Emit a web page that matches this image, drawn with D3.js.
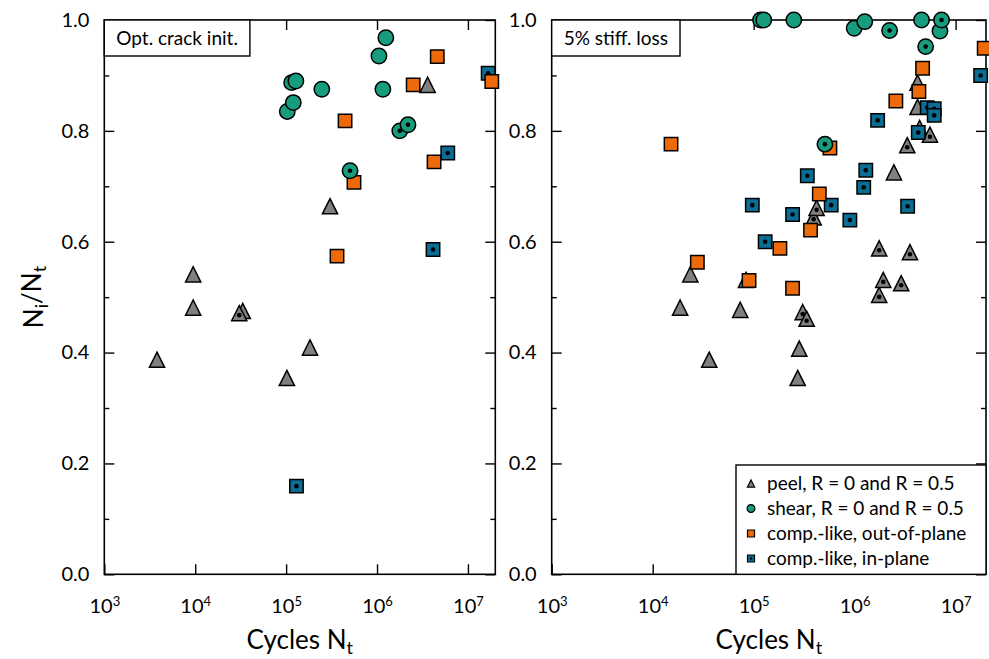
<!DOCTYPE html>
<html><head><meta charset="utf-8">
<script src="https://cdn.jsdelivr.net/npm/d3@7"></script>
<style>
body{margin:0;background:#fff}
svg text{font-family:Lato,"DejaVu Sans",sans-serif;fill:#000}
</style>
</head><body>
<svg id="chart" width="989" height="659"></svg>
<script>
// ---------------- data ----------------
const xTicks = [1e3, 1e4, 1e5, 1e6, 1e7];
const yTicks = [0, 0.2, 0.4, 0.6, 0.8, 1.0];
const yMinorTicks = [0.1, 0.3, 0.5, 0.7, 0.9];
const panelTitles = ["Opt. crack init.", "5% stiff. loss"];
const legendLabels = ["peel, R = 0 and R = 0.5", "shear, R = 0 and R = 0.5", "comp.-like, out-of-plane", "comp.-like, in-plane"];

// [cycles N_t, ratio N_i/N_t, dot (R = 0.5)]
const initPeel = [[3.8e3,0.388,0],[9.5e3,0.542,0],[9.5e3,0.482,0],[3.33e4,0.476,0],[3.05e4,0.472,1],[1.02e5,0.355,0],[1.83e5,0.41,0],[3.04e5,0.665,0],[3.6e6,0.884,0]];
const initShear = [[1.03e5,0.835,0],[1.2e5,0.851,0],[1.15e5,0.887,0],[1.28e5,0.890,0],[2.47e5,0.875,0],[1.05e6,0.935,0],[1.25e6,0.968,0],[1.16e6,0.875,0],[1.78e6,0.800,1],[2.19e6,0.811,1],[5.05e5,0.728,1]];
const initOutPlane = [[4.45e5,0.818,0],[5.58e5,0.707,0],[3.63e5,0.574,0],[2.5e6,0.883,0],[4.6e6,0.934,0],[4.24e6,0.744,0],[1.83e7,0.889,0]];
const initInPlane = [[1.3e5,0.159,1],[4.13e6,0.586,1],[6.0e6,0.760,1],[1.67e7,0.904,1]];

const stiffPeel = [[1.87e4,0.482,0],[2.36e4,0.542,0],[3.63e4,0.388,0],[7.36e4,0.478,0],[8.4e4,0.532,0],[2.73e5,0.355,0],[2.83e5,0.408,0],[3.06e5,0.474,1],[3.35e5,0.462,1],[3.93e5,0.645,1],[4.2e5,0.662,1],[1.75e6,0.589,1],[1.75e6,0.505,1],[1.92e6,0.532,1],[2.89e6,0.526,1],[3.53e6,0.582,1],[2.45e6,0.726,0],[3.32e6,0.775,1],[4.4e6,0.806,0],[5.57e6,0.794,1],[4.2e6,0.844,0],[4.2e6,0.888,0]];
const stiffShear = [[1.17e5,1.0,1],[1.26e5,1.0,0],[2.5e5,1.0,0],[9.9e5,0.985,0],[1.26e6,0.997,0],[2.22e6,0.981,1],[4.6e6,1.0,0],[7.0e6,0.980,0],[7.26e6,1.0,1],[5.05e6,0.952,1],[5.08e5,0.776,1]];
const stiffOutPlane = [[1.52e4,0.776,0],[2.77e4,0.563,0],[9.0e4,0.530,0],[1.82e5,0.588,0],[2.43e5,0.516,0],[3.66e5,0.621,0],[4.47e5,0.686,0],[5.69e5,0.769,0],[2.56e6,0.854,0],[4.33e6,0.871,0],[4.71e6,0.913,0],[1.92e7,0.949,0]];
const stiffInPlane = [[9.7e4,0.666,1],[1.3e5,0.600,1],[2.43e5,0.649,1],[3.4e5,0.719,1],[5.86e5,0.666,1],[8.97e5,0.639,1],[1.23e6,0.698,1],[1.29e6,0.729,1],[1.69e6,0.819,1],[3.35e6,0.664,1],[4.27e6,0.797,1],[5.24e6,0.842,1],[6.14e6,0.840,1],[6.14e6,0.828,1],[1.77e7,0.900,1]];

// ---------------- styles ----------------
const COLORS = {peel:"#808080", shear:"#179c7d", out:"#ec6a0a", inp:"#0b6d94"};
const svg = d3.select("#chart");

function markerPath(type, s) {
  if (type === "tri") return `M0,${-s}L${s},${s}L${-s},${s}Z`;
  if (type === "sq") return `M${-s},${-s}H${s}V${s}H${-s}Z`;
  const p = d3.path(); p.arc(0, 0, s, 0, 2 * Math.PI); p.closePath(); return p.toString();
}
const SIZES = {tri:7.6, circ:7.7, sq:6.7};

function drawMarkers(g, data, type, color, xs, ys) {
  const sel = g.append("g").selectAll("g").data(data).join("g")
    .attr("transform", d => `translate(${xs(d[0])},${ys(d[1]) + (type==="tri"?0.5:0)})`);
  sel.append("path").attr("d", markerPath(type, SIZES[type]))
    .attr("fill", color).attr("stroke", "#000").attr("stroke-width", 1.5)
    .attr("stroke-linejoin", "miter");
  sel.filter(d => d[2]).append("circle").attr("r", 2.3).attr("fill", "#000")
    .attr("cy", type==="tri" ? 2 : 0);
}

function drawPanel(x0, x1, y0, y1, series, title) {
  const w = x1 - x0, h = y1 - y0;
  const g = svg.append("g").attr("transform", `translate(${x0},${y0})`);
  const xs = d3.scaleLog().domain([1e3, 2e7]).range([0, w]);
  const ys = d3.scaleLinear().domain([0, 1]).range([h, 0]);

  const gb = g.append("g").attr("transform", `translate(0,${h})`)
    .call(d3.axisBottom(xs).tickValues(xTicks).tickSizeInner(-10).tickSizeOuter(0).tickPadding(25).tickFormat(d => ""));
  gb.selectAll(".tick text").each(function(d) {
    const t = d3.select(this).attr("font-size", 20).attr("fill", "#000");
    t.append("tspan").text("10");
    t.append("tspan").attr("dy", "-0.6em").attr("font-size", "13px").text(Math.round(Math.log10(d)));
  });
  g.append("g").call(d3.axisTop(xs).tickValues(xTicks).tickSizeInner(-10).tickSizeOuter(0).tickFormat(() => ""));
  g.append("g").call(d3.axisLeft(ys).tickValues(yTicks).tickSizeInner(-10).tickSizeOuter(0).tickPadding(15).tickFormat(d3.format(".1f")))
    .selectAll(".tick text").attr("font-size", 20).attr("fill", "#000");
  g.append("g").call(d3.axisLeft(ys).tickValues(yMinorTicks).tickSizeInner(-5).tickSizeOuter(0).tickFormat(() => ""));
  g.append("g").attr("transform", `translate(${w},0)`)
    .call(d3.axisRight(ys).tickValues(yTicks).tickSizeInner(-10).tickSizeOuter(0).tickFormat(() => ""));
  g.append("g").attr("transform", `translate(${w},0)`)
    .call(d3.axisRight(ys).tickValues(yMinorTicks).tickSizeInner(-5).tickSizeOuter(0).tickFormat(() => ""));
  g.selectAll(".domain").remove();
  g.selectAll(".tick line").attr("stroke", "#000").attr("stroke-width", 1.4);
  g.selectAll("text").attr("font-family", null);

  g.append("rect").attr("width", w).attr("height", h).attr("fill", "none").attr("stroke", "#000").attr("stroke-width", 1.6);

  drawMarkers(g, series.peel, "tri", COLORS.peel, xs, ys);
  drawMarkers(g, series.inp, "sq", COLORS.inp, xs, ys);
  drawMarkers(g, series.out, "sq", COLORS.out, xs, ys);
  drawMarkers(g, series.shear, "circ", COLORS.shear, xs, ys);

  const tb = g.append("g");
  const tt = tb.append("text").attr("x", 12).attr("y", 25).attr("font-size", 19).text(title);
  const tl = tt.node().getComputedTextLength();
  tb.insert("rect", "text").attr("x", 0).attr("y", 0).attr("width", tl + 24).attr("height", 36)
    .attr("fill", "#fff").attr("stroke", "#000").attr("stroke-width", 1.4);

  const xl = svg.append("text").attr("x", x0 + w / 2).attr("y", 649).attr("text-anchor", "middle").attr("font-size", 26);
  xl.append("tspan").text("Cycles N");
  xl.append("tspan").attr("dy", "0.25em").attr("font-size", "18px").text("t");
  return {g, xs, ys, w, h};
}

const left = drawPanel(104.3, 495.3, 20, 574.3, {peel: initPeel, shear: initShear, out: initOutPlane, inp: initInPlane}, panelTitles[0]);
const right = drawPanel(551.7, 986, 20, 574.3, {peel: stiffPeel, shear: stiffShear, out: stiffOutPlane, inp: stiffInPlane}, panelTitles[1]);

const yl = svg.append("text").attr("transform", "translate(43,297) rotate(-90)").attr("text-anchor", "middle").attr("font-size", 26);
yl.append("tspan").text("N");
yl.append("tspan").attr("dy", "0.25em").attr("font-size", "18px").text("i");
yl.append("tspan").attr("dy", "-0.25em").text("/N");
yl.append("tspan").attr("dy", "0.25em").attr("font-size", "18px").text("t");

const lg = right.g.append("g").attr("transform", `translate(${736 - 551.7},${465 - 20})`);
lg.append("rect").attr("width", right.w - (736 - 551.7)).attr("height", right.h - (465 - 20))
  .attr("fill", "#fff").attr("stroke", "#000").attr("stroke-width", 1.4);
const legTypes = [["tri", COLORS.peel, 0], ["circ", COLORS.shear, 0], ["sq", COLORS.out, 0], ["sq", COLORS.inp, 1]];
const legScale = {tri: 3.6, circ: 3.9, sq: 3.5};
legendLabels.forEach((lab, i) => {
  const row = lg.append("g").attr("transform", `translate(15,${18.5 + i * 25})`);
  const [tp, col, dot] = legTypes[i];
  row.append("path").attr("d", markerPath(tp, legScale[tp])).attr("fill", col).attr("stroke", "#000").attr("stroke-width", 1.2);
  if (dot) row.append("circle").attr("r", 1.2).attr("fill", "#000");
  row.append("text").attr("x", 16).attr("y", 6.5).attr("font-size", 19).text(lab);
});
</script>
</body></html>
